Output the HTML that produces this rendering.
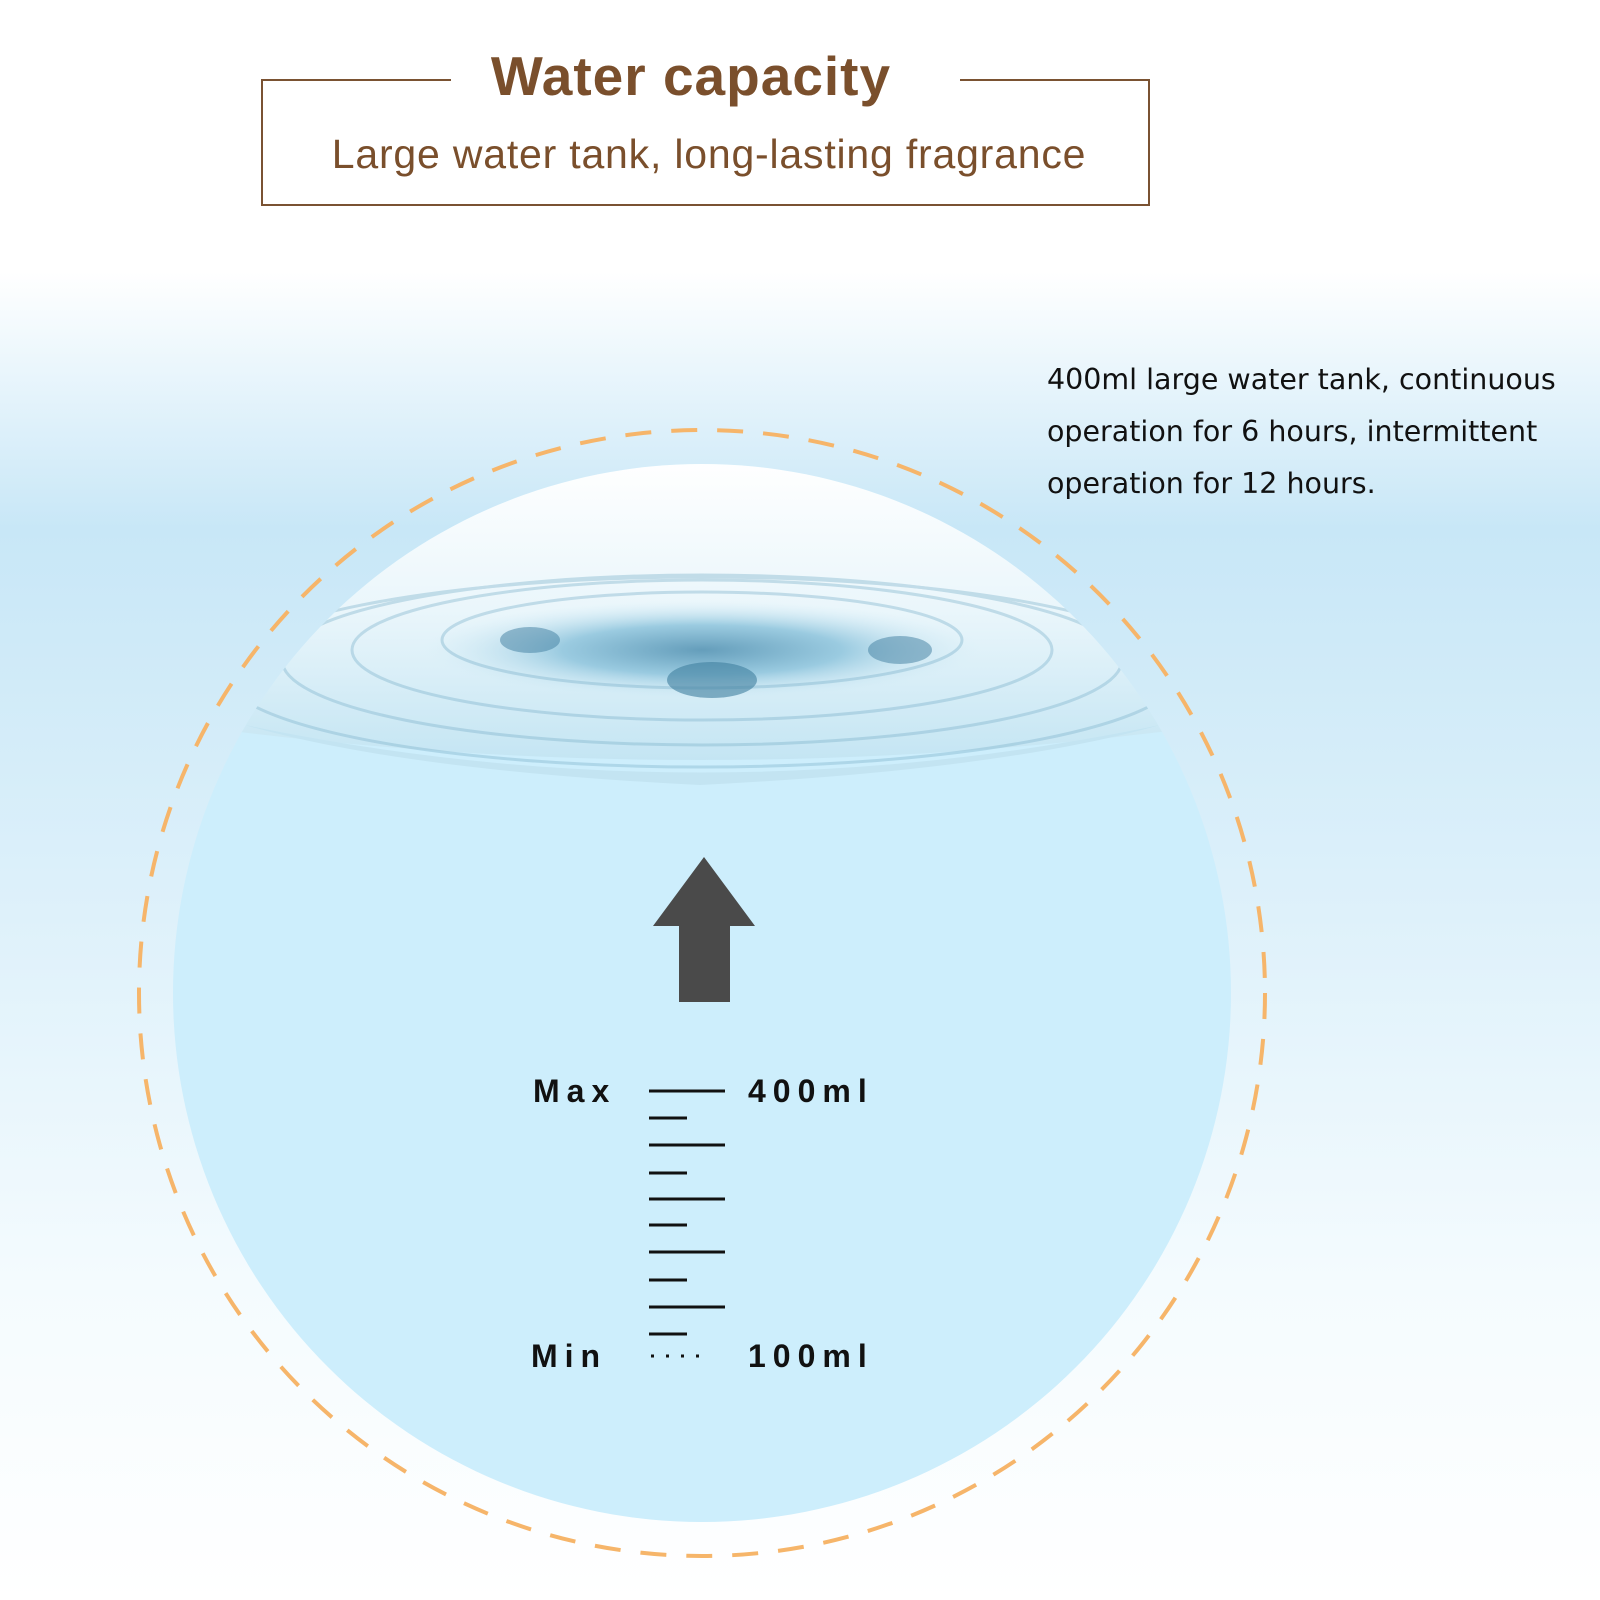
<!DOCTYPE html>
<html><head><meta charset="utf-8"><style>
html,body{margin:0;padding:0;width:1600px;height:1600px;overflow:hidden;background:#fff}
svg{display:block}
</style></head><body>
<svg width="1600" height="1600" viewBox="0 0 1600 1600" xmlns="http://www.w3.org/2000/svg">
<defs>
<linearGradient id="bg" x1="0" y1="0" x2="0" y2="1">
<stop offset="0" stop-color="#ffffff"/>
<stop offset="0.17" stop-color="#ffffff"/>
<stop offset="0.33" stop-color="#c8e7f7"/>
<stop offset="0.55" stop-color="#dcf0fa"/>
<stop offset="0.8" stop-color="#f4fbfe"/>
<stop offset="1" stop-color="#ffffff"/>
</linearGradient>
<linearGradient id="cap" x1="0" y1="0" x2="0" y2="1">
<stop offset="0" stop-color="#ffffff"/>
<stop offset="0.5" stop-color="#eaf6fb"/>
<stop offset="1" stop-color="#c4e5f3"/>
</linearGradient>
<radialGradient id="splash" cx="0.5" cy="0.5" r="0.5">
<stop offset="0" stop-color="#4f8fb0"/>
<stop offset="0.5" stop-color="#8ec4dc"/>
<stop offset="1" stop-color="#d6eef8" stop-opacity="0"/>
</radialGradient>
<clipPath id="cc"><circle cx="702" cy="993" r="529"/></clipPath>
</defs>
<rect width="1600" height="1600" fill="url(#bg)"/>
<path d="M451 80 H262 V205 H1149 V80 H960" fill="none" stroke="#7a5232" stroke-width="2"/>
<text x="691" y="95" text-anchor="middle" font-family="Liberation Sans, sans-serif" font-weight="bold" font-size="55" fill="#7a4f2c" letter-spacing="1">Water capacity</text>
<text x="709" y="168" text-anchor="middle" font-family="Liberation Sans, sans-serif" font-size="41" fill="#7a4f2c" letter-spacing="0.8">Large water tank, long-lasting fragrance</text>
<circle cx="702" cy="993" r="563" fill="none" stroke="#f6b56a" stroke-width="4" stroke-dasharray="26 20"/>
<circle cx="702" cy="993" r="529" fill="#cdeefc"/>
<g clip-path="url(#cc)">
<path d="M150 460 H1250 V720 Q700 800 150 720 Z" fill="url(#cap)"/>
<path d="M245 725 Q700 820 1160 725 Q1000 770 700 785 Q400 770 245 725 Z" fill="#c3e4f2"/>
<ellipse cx="702" cy="650" rx="280" ry="50" fill="url(#splash)" opacity="0.85"/>
<g fill="none" stroke="#7fb3cc" stroke-width="3" opacity="0.4">
<ellipse cx="702" cy="650" rx="350" ry="70"/>
<ellipse cx="702" cy="660" rx="420" ry="85"/>
<ellipse cx="702" cy="672" rx="480" ry="95"/>
<ellipse cx="702" cy="640" rx="260" ry="48"/>
</g>
<ellipse cx="712" cy="680" rx="45" ry="18" fill="#3f7e9f" opacity="0.6"/>
<ellipse cx="530" cy="640" rx="30" ry="13" fill="#3f7e9f" opacity="0.5"/>
<ellipse cx="900" cy="650" rx="32" ry="14" fill="#3f7e9f" opacity="0.5"/>
</g>
<path d="M704 857 L755 926 L730 926 L730 1002 L679 1002 L679 926 L653 926 Z" fill="#4a4a4a"/>
<g stroke="#111" stroke-width="3">
<line x1="649" y1="1091" x2="725" y2="1091"/>
<line x1="649" y1="1118" x2="687" y2="1118"/>
<line x1="649" y1="1145" x2="725" y2="1145"/>
<line x1="649" y1="1173" x2="687" y2="1173"/>
<line x1="649" y1="1199" x2="725" y2="1199"/>
<line x1="649" y1="1225" x2="687" y2="1225"/>
<line x1="649" y1="1252" x2="725" y2="1252"/>
<line x1="649" y1="1280" x2="687" y2="1280"/>
<line x1="649" y1="1307" x2="725" y2="1307"/>
<line x1="649" y1="1334" x2="687" y2="1334"/>
<line x1="651" y1="1356" x2="707" y2="1356" stroke-dasharray="3 12"/>
</g>
<g font-family="Liberation Sans, sans-serif" font-weight="bold" font-size="32" fill="#111" letter-spacing="7">
<text x="533" y="1102">Max</text>
<text x="748" y="1102">400ml</text>
<text x="531" y="1367">Min</text>
<text x="748" y="1367">100ml</text>
</g>
<g font-family="DejaVu Sans, sans-serif" font-size="28.5" fill="#111">
<text x="1047" y="389">400ml large water tank, continuous</text>
<text x="1047" y="441">operation for 6 hours, intermittent</text>
<text x="1047" y="493">operation for 12 hours.</text>
</g>
</svg>
</body></html>
